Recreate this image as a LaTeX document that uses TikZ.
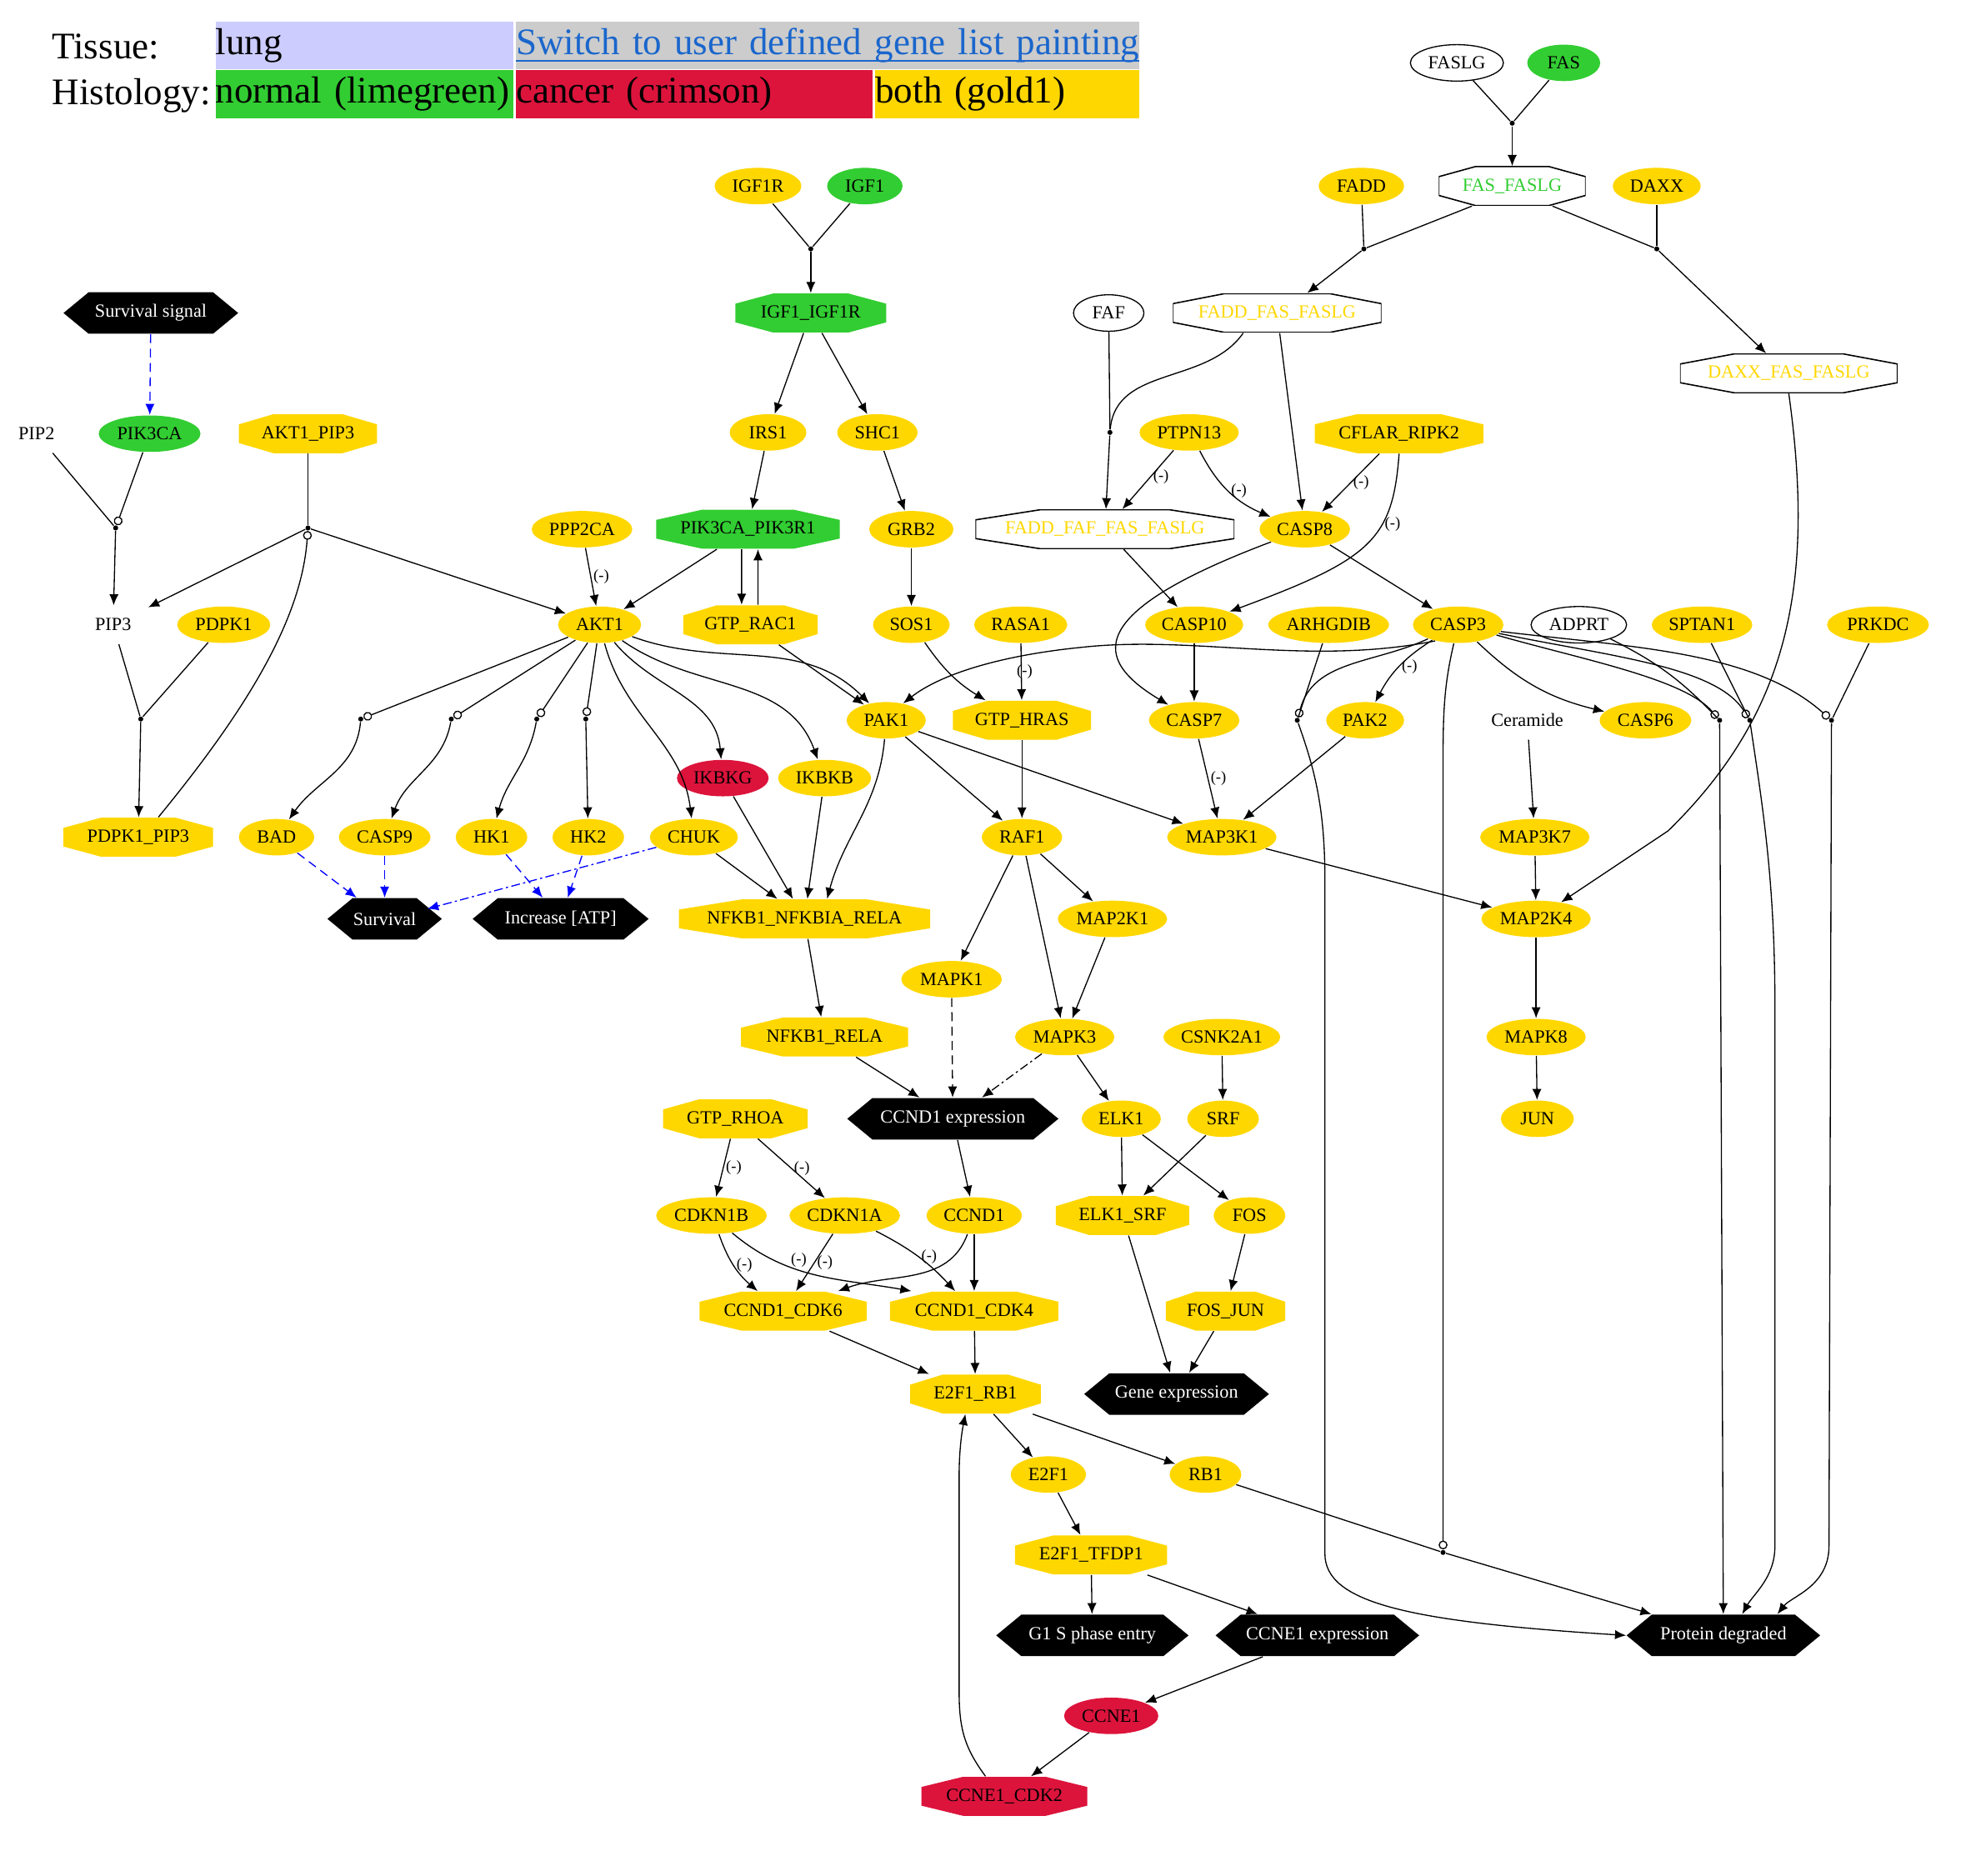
\documentclass[tikz,border=0pt]{standalone}
\usepackage{fontspec}
\setmainfont{Liberation Serif}
\usetikzlibrary{arrows.meta,shapes.geometric,calc}

\definecolor{gvgold}{HTML}{FFD700}
\definecolor{gvlime}{HTML}{32CD32}
\definecolor{gvred}{HTML}{DC143C}
\definecolor{gvlung}{HTML}{CCCCFF}
\definecolor{gvgrey}{HTML}{CCCCCC}
\definecolor{gvlink}{HTML}{1A66CC}

\newcommand{\gvfont}{\fontsize{8.4}{10}\selectfont}
\newcommand{\hdfont}{\fontsize{17}{20}\selectfont}
\newcommand{\gvuline}[1]{\setbox0\hbox{#1}\rlap{\rule[-3.4pt]{\wd0}{1pt}}\box0}
\newcommand{\gvbb}{path picture bounding box}
% octagon and hexagon outlines, drawn inside the node box
\newcommand{\gvoct}[1]{%
  \path[#1] ($(\gvbb.north west)!.25!(\gvbb.north east)$)
    -- ($(\gvbb.north west)!.75!(\gvbb.north east)$)
    -- ($(\gvbb.north east)!.26!(\gvbb.south east)$)
    -- ($(\gvbb.north east)!.74!(\gvbb.south east)$)
    -- ($(\gvbb.south west)!.75!(\gvbb.south east)$)
    -- ($(\gvbb.south west)!.25!(\gvbb.south east)$)
    -- ($(\gvbb.north west)!.74!(\gvbb.south west)$)
    -- ($(\gvbb.north west)!.26!(\gvbb.south west)$) -- cycle;}
\newcommand{\gvhex}[1]{%
  \path[#1] ($(\gvbb.north west)+(.4cm,0)$) -- ($(\gvbb.north east)+(-.4cm,0)$)
    -- (\gvbb.east) -- ($(\gvbb.south east)+(-.4cm,0)$)
    -- ($(\gvbb.south west)+(.4cm,0)$) -- (\gvbb.west) -- cycle;}

\tikzset{
  basic/.style = {inner sep=0pt, font=\gvfont},
  gene/.style  = {basic, ellipse, fill=gvgold, minimum height=.58cm, minimum width=#1},
  wgene/.style = {basic, ellipse, draw, fill=white, minimum height=.58cm, minimum width=#1},
  cplx/.style  = {basic, rectangle, minimum height=.62cm, minimum width=#1,
                  path picture={\gvoct{fill=gvgold}}},
  gcplx/.style = {cplx=#1, path picture={\gvoct{fill=gvlime}}},
  rcplx/.style = {cplx=#1, path picture={\gvoct{fill=gvred}}},
  wcplx/.style = {cplx=#1, path picture={\gvoct{draw, line width=.6pt}}},
  proc/.style  = {basic, rectangle, text=white, minimum height=.66cm, minimum width=#1,
                  path picture={\gvhex{fill=black}}},
  bare/.style  = {basic, minimum width=1.1cm, minimum height=.6cm},
  junc/.style  = {circle, fill, inner sep=0pt, minimum size=.08cm},
  neg/.style   = {font=\fontsize{7}{8}\selectfont, inner sep=1pt},
  hd/.style    = {font=\hdfont, inner sep=0pt, anchor=west},
  cell/.style  = {font=\hdfont, anchor=west, inner sep=0pt, text width=#1,
                  minimum height=.76cm, align=left}
}

\begin{document}
\begin{tikzpicture}[x=.02cm, y=.02cm, line width=.5pt,
    >={Latex[length=5pt,width=4.2pt]},
    modif/.style={-{Circle[open,length=4pt,width=4pt]}},
    sig/.style={->, blue, dash pattern=on 4pt off 2.5pt},
    sigdd/.style={->, blue, dash pattern=on 4pt off 1.5pt on 1pt off 1.5pt}]

\useasboundingbox (0,0) rectangle (1568,-1492);

% legend table
\node[hd] (tissue) at (41,-37) {Tissue:};
\node[hd] (histo) at (41,-76) {Histology:};
\node[cell=4.74cm, fill=gvlung] (lung) at (171,-36) {lung};
\node[cell=9.92cm, fill=gvgrey, text=gvlink] (swlink) at (410,-36)
  {\gvuline{Switch to user defined gene list painting}};
\node[cell=4.74cm, fill=gvlime] (normal) at (171,-75) {normal (limegreen)};
\node[cell=5.68cm, fill=gvred] (cancer) at (410,-75) {cancer (crimson)};
\node[cell=4.2cm, fill=gvgold] (both) at (696,-75) {both (gold1)};

% FAS branch
\node[wgene=1.48cm] (FASLG) at (1159,-50) {FASLG};
\node[gene=1.16cm, fill=gvlime] (FAS) at (1244,-50) {FAS};
\node[junc] (jFas) at (1203,-98) {};
\node[wcplx=2.34cm, text=gvlime] (FASFASLG) at (1203,-148) {FAS\_FASLG};
\node[gene=1.36cm] (FADD) at (1083,-148) {FADD};
\node[gene=1.40cm] (DAXX) at (1318,-148) {DAXX};
\node[junc] (jFadd) at (1085,-198) {};
\node[junc] (jDaxx) at (1318,-198) {};
\node[wcplx=3.32cm, text=gvgold] (FADDFAS) at (1016,-249) {FADD\_FAS\_FASLG};
\node[wcplx=3.46cm, text=gvgold] (DAXXFAS) at (1423,-297) {DAXX\_FAS\_FASLG};
\node[wgene=1.12cm] (FAF) at (882,-249) {FAF};
\node[junc] (jFaf) at (883,-344) {};
\node[gene=1.58cm] (PTPN13) at (946,-344) {PTPN13};
\node[cplx=2.68cm] (CFLAR) at (1113,-345) {CFLAR\_RIPK2};
\node[wcplx=4.12cm, text=gvgold] (FADDFAF) at (879,-421) {FADD\_FAF\_FAS\_FASLG};
\node[gene=1.44cm] (CASP8) at (1038,-421) {CASP8};

% IGF1 branch
\node[gene=1.38cm] (IGF1R) at (603,-148) {IGF1R};
\node[gene=1.20cm, fill=gvlime] (IGF1) at (688,-148) {IGF1};
\node[junc] (jIgf) at (645,-198) {};
\node[gcplx=2.40cm] (IGFIGF) at (645,-249) {IGF1\_IGF1R};
\node[gene=1.22cm] (IRS1) at (611,-344) {IRS1};
\node[gene=1.28cm] (SHC1) at (698,-344) {SHC1};
\node[gcplx=2.92cm] (PIKPIK) at (595,-421) {PIK3CA\_PIK3R1};
\node[gene=1.34cm] (GRB2) at (725,-421) {GRB2};
\node[gene=1.60cm] (PPP2CA) at (463,-421) {PPP2CA};

% PI3K branch
\node[proc=2.78cm] (SurvSig) at (120,-249) {Survival signal};
\node[gene=1.62cm, fill=gvlime] (PIK3CA) at (119,-345) {PIK3CA};
\node[bare] (PIP2) at (29,-345) {PIP2};
\node[cplx=2.20cm] (AKTPIP) at (245,-345) {AKT1\_PIP3};
\node[junc] (jPip) at (92,-420) {};
\node[junc] (jAkt) at (245,-420) {};
\node[bare] (PIP3) at (90,-497) {PIP3};
\node[gene=1.48cm] (PDPK1) at (178,-497) {PDPK1};
\node[gene=1.32cm] (AKT1) at (477,-497) {AKT1};
\node[junc] (jPdpk) at (112,-572) {};
\node[cplx=2.38cm] (PDPKPIP) at (110,-666) {PDPK1\_PIP3};

% middle rows
\node[cplx=2.14cm] (GTPRAC1) at (597,-497) {GTP\_RAC1};
\node[gene=1.22cm] (SOS1) at (725,-497) {SOS1};
\node[gene=1.48cm] (RASA1) at (812,-497) {RASA1};
\node[gene=1.56cm] (CASP10) at (950,-497) {CASP10};
\node[gene=1.92cm] (ARHGDIB) at (1057,-497) {ARHGDIB};
\node[gene=1.44cm] (CASP3) at (1160,-497) {CASP3};
\node[wgene=1.52cm] (ADPRT) at (1256,-497) {ADPRT};
\node[gene=1.60cm] (SPTAN1) at (1354,-497) {SPTAN1};
\node[gene=1.62cm] (PRKDC) at (1494,-497) {PRKDC};

\node[junc] (jBad) at (287,-572) {};
\node[junc] (jCasp9) at (359,-572) {};
\node[junc] (jHk1) at (427,-572) {};
\node[junc] (jHk2) at (466,-572) {};
\node[gene=1.26cm] (PAK1) at (705,-573) {PAK1};
\node[cplx=2.20cm] (GTPHRAS) at (813,-573) {GTP\_HRAS};
\node[gene=1.44cm] (CASP7) at (950,-573) {CASP7};
\node[junc] (jArh) at (1032,-573) {};
\node[gene=1.24cm] (PAK2) at (1086,-573) {PAK2};
\node[bare] (Ceramide) at (1215,-573) {Ceramide};
\node[gene=1.46cm] (CASP6) at (1309,-573) {CASP6};
\node[junc] (jAdprt) at (1368,-573) {};
\node[junc] (jSptan) at (1392,-573) {};
\node[junc] (jPrkdc) at (1457,-573) {};

\node[gene=1.46cm, fill=gvred] (IKBKG) at (575,-619) {IKBKG};
\node[gene=1.48cm] (IKBKB) at (656,-619) {IKBKB};

\node[gene=1.20cm] (BAD) at (220,-666) {BAD};
\node[gene=1.46cm] (CASP9) at (306,-666) {CASP9};
\node[gene=1.14cm] (HK1) at (391,-666) {HK1};
\node[gene=1.14cm] (HK2) at (468,-666) {HK2};
\node[gene=1.40cm] (CHUK) at (552,-666) {CHUK};
\node[gene=1.28cm] (RAF1) at (813,-666) {RAF1};
\node[gene=1.74cm] (MAP3K1) at (972,-666) {MAP3K1};
\node[gene=1.74cm] (MAP3K7) at (1221,-666) {MAP3K7};

\node[proc=1.82cm] (Survival) at (306,-731) {Survival};
\node[proc=2.80cm] (Incr) at (446,-731) {Increase [ATP]};
\node[cplx=4.00cm] (NFKB) at (640,-731) {NFKB1\_NFKBIA\_RELA};
\node[gene=1.74cm] (MAP2K1) at (885,-731) {MAP2K1};
\node[gene=1.74cm] (MAP2K4) at (1222,-731) {MAP2K4};

\node[gene=1.60cm] (MAPK1) at (757,-779) {MAPK1};
\node[cplx=2.66cm] (NFKBRELA) at (656,-825) {NFKB1\_RELA};
\node[gene=1.58cm] (MAPK3) at (847,-825) {MAPK3};
\node[gene=1.86cm] (CSNK2A1) at (972,-825) {CSNK2A1};
\node[gene=1.58cm] (MAPK8) at (1222,-825) {MAPK8};

% cell cycle part
\node[cplx=2.30cm] (GTPRHOA) at (585,-890) {GTP\_RHOA};
\node[proc=3.36cm] (CCNDexp) at (758,-890) {CCND1 expression};
\node[gene=1.26cm] (ELK1) at (892,-890) {ELK1};
\node[gene=1.14cm] (SRF) at (973,-890) {SRF};
\node[gene=1.16cm] (JUN) at (1223,-890) {JUN};
\node[gene=1.76cm] (CDKN1B) at (566,-967) {CDKN1B};
\node[gene=1.76cm] (CDKN1A) at (672,-967) {CDKN1A};
\node[gene=1.52cm] (CCND1) at (775,-967) {CCND1};
\node[cplx=2.12cm] (ELKSRF) at (893,-967) {ELK1\_SRF};
\node[gene=1.14cm] (FOS) at (994,-967) {FOS};
\node[cplx=2.66cm] (CDK6) at (623,-1043) {CCND1\_CDK6};
\node[cplx=2.68cm] (CDK4) at (775,-1043) {CCND1\_CDK4};
\node[cplx=1.90cm] (FOSJUN) at (975,-1043) {FOS\_JUN};
\node[cplx=2.08cm] (E2FRB1) at (776,-1109) {E2F1\_RB1};
\node[proc=2.94cm] (GeneExp) at (936,-1109) {Gene expression};
\node[gene=1.20cm] (E2F1) at (834,-1173) {E2F1};
\node[gene=1.14cm] (RB1) at (959,-1173) {RB1};
\node[junc] (jRb1) at (1148,-1235) {};
\node[cplx=2.42cm] (E2FTFDP) at (868,-1237) {E2F1\_TFDP1};
\node[proc=3.06cm] (G1S) at (869,-1301) {G1 S phase entry};
\node[proc=3.24cm] (CCNEexp) at (1048,-1301) {CCNE1 expression};
\node[proc=3.08cm] (PD) at (1371,-1301) {Protein degraded};
\node[gene=1.50cm, fill=gvred] (CCNE1) at (884,-1365) {CCNE1};
\node[rcplx=2.64cm] (CCNE1CDK2) at (799,-1429) {CCNE1\_CDK2};

% reactants joining at a junction
\foreach \a/\b in {FASLG/jFas, FAS/jFas, FADD/jFadd, DAXX/jDaxx, FAF/jFaf,
                   IGF1R/jIgf, IGF1/jIgf, PIP2/jPip, AKTPIP/jAkt, PIP3/jPdpk,
                   PDPK1/jPdpk, ARHGDIB/jArh, SPTAN1/jSptan, PRKDC/jPrkdc, RB1/jRb1}
  \draw (\a) -- (\b);
\draw ([xshift=-.64cm]FASFASLG.south) -- (jFadd);
\draw ([xshift=.64cm]FASFASLG.south) -- (jDaxx);
\draw ([xshift=-.54cm]FADDFAS.south) to[out=235, in=85] (jFaf);
\draw (ADPRT) to[bend left=10] (jAdprt);

% plain arrows
\foreach \a/\b in {jFas/FASFASLG, jIgf/IGFIGF, IGFIGF/IRS1, IGFIGF/SHC1, IRS1/PIKPIK,
                   SHC1/GRB2, GRB2/SOS1, PIKPIK/AKT1, jFaf/FADDFAF, FADDFAS/CASP8,
                   FADDFAF/CASP10, CASP8/CASP3, CASP10/CASP7, jPip/PIP3, jAkt/PIP3,
                   jAkt/AKT1, jPdpk/PDPKPIP, jHk2/HK2, GTPRAC1/PAK1, GTPHRAS/RAF1,
                   PAK1/RAF1, PAK1/MAP3K1, PAK2/MAP3K1, CHUK/NFKB, IKBKG/NFKB,
                   IKBKB/NFKB, NFKB/NFKBRELA, NFKBRELA/CCNDexp, RAF1/MAPK1, RAF1/MAPK3,
                   RAF1/MAP2K1, MAP2K1/MAPK3, MAPK3/ELK1, CSNK2A1/SRF, ELK1/ELKSRF,
                   SRF/ELKSRF, ELK1/FOS, FOS/FOSJUN, ELKSRF/GeneExp, FOSJUN/GeneExp,
                   Ceramide/MAP3K7, MAP3K7/MAP2K4, MAP3K1/MAP2K4, MAP2K4/MAPK8,
                   MAPK8/JUN, CCNDexp/CCND1, CCND1/CDK4, CDK6/E2FRB1, CDK4/E2FRB1,
                   E2FRB1/E2F1, E2FRB1/RB1, E2F1/E2FTFDP, E2FTFDP/G1S, E2FTFDP/CCNEexp,
                   CCNEexp/CCNE1, CCNE1/CCNE1CDK2, jAdprt/PD, jRb1/PD}
  \draw[->] (\a) -- (\b);
\draw[->] (jFadd) -- ([xshift=.48cm]FADDFAS.north);
\draw[->] (jDaxx) -- ([xshift=-.36cm]DAXXFAS.north);
\draw[->] ([xshift=-.1cm]PIKPIK.south) -- ([xshift=-.14cm]GTPRAC1.north);
\draw[->] ([xshift=.12cm]GTPRAC1.north) -- ([xshift=.16cm]PIKPIK.south);

% modifiers, ending in an open circle
\foreach \a/\b in {PIK3CA/jPip, AKT1/jBad, AKT1/jCasp9, AKT1/jHk1, AKT1/jHk2}
  \draw[modif] (\a) -- (\b);
\draw[modif] ([xshift=.32cm]PDPKPIP.north) .. controls (200,-560) and (240,-490) .. (jAkt);
\draw[modif] (CASP3) to[out=205, in=75] (jArh);
\draw[modif] (CASP3.345) .. controls (1260,-525) and (1340,-540) .. (jAdprt);
\draw[modif] (CASP3.348) .. controls (1280,-522) and (1365,-530) .. (jSptan);
\draw[modif] (CASP3.351) .. controls (1300,-515) and (1395,-518) .. (jPrkdc);
\draw[modif] (CASP3) .. controls (1150,-540) and (1148,-560) .. (1148,-600) -- (jRb1);

% curved arrows
\draw[->] (jBad) to[out=-95, in=55] (BAD);
\draw[->] (jCasp9) to[out=-100, in=70] (CASP9);
\draw[->] (jHk1) to[out=-100, in=75] (HK1);
\draw[->] (AKT1) to[out=-75, in=97] (CHUK);
\draw[->] (AKT1) to[out=-50, in=95] (IKBKG);
\draw[->] (AKT1) to[out=-35, in=110] (IKBKB);
\draw[->] (AKT1) to[out=-20, in=135] (PAK1);
\draw[->] (PAK1) to[out=-95, in=75] ([xshift=.36cm]NFKB.north);
\draw[->] (SOS1) to[bend right=12] (GTPHRAS);
\draw[->] (CASP8) .. controls (860,-488) and (870,-525) .. (CASP7);
\draw[->] (CASP3.215) .. controls (1040,-530) and (950,-505) .. (860,-515)
  .. controls (800,-521) and (750,-535) .. (PAK1.45);
\draw[->] (CASP3) to[bend right=15] (CASP6);
\draw[->] (DAXXFAS.south) .. controls (1445,-470) and (1420,-570) .. (1327,-661) -- (MAP2K4);
\draw[->] (jArh) .. controls (1045,-610) and (1054,-640) .. (1054,-700) -- (1054,-1236)
  .. controls (1054,-1275) and (1120,-1290) .. (PD.west);
\draw[->] (jSptan) .. controls (1402,-640) and (1412,-700) .. (1412,-800) -- (1412,-1230)
  .. controls (1412,-1255) and (1395,-1268) .. ([xshift=.3cm]PD.north);
\draw[->] (jPrkdc) -- (1455,-1230) .. controls (1455,-1262) and (1425,-1270)
  .. ([xshift=.86cm]PD.north);
\draw[->] (CCND1) to[out=-110, in=20] (CDK6);
\draw[->] ([xshift=-.3cm]CCNE1CDK2.north) .. controls (767,-1390) and (763,-1375) .. (763,-1345)
  -- (763,-1175) .. controls (763,-1150) and (766,-1135) .. ([xshift=-.16cm]E2FRB1.south);

% inhibitions
\draw[->] (PPP2CA) -- node[neg, right] {(-)} (AKT1);
\draw[->] (RASA1) -- node[neg, xshift=1.5pt] {(-)} (GTPHRAS);
\draw[->] (PTPN13) -- node[neg, pos=.45, right] {(-)} (FADDFAF);
\draw[->] (PTPN13) to[bend right=20] node[neg, right] {(-)} (CASP8);
\draw[->] (CFLAR) -- node[neg, right] {(-)} (CASP8);
\draw[->] (CFLAR.south) .. controls (1108,-430) and (1090,-445) .. (CASP10)
  node[neg, pos=.35, right] {(-)};
\draw[->] (CASP7) -- node[neg, right] {(-)} (MAP3K1);
\draw[->] (CASP3) to[bend right=15] node[neg, right] {(-)} (PAK2);
\draw[->] (GTPRHOA) -- node[neg, right] {(-)} (CDKN1B);
\draw[->] (GTPRHOA) -- node[neg, right] {(-)} (CDKN1A);
\draw[->] (CDKN1B) to[bend right=15] node[neg, right] {(-)} (CDK6);
\draw[->] (CDKN1B) to[out=-40, in=170] node[neg, pos=.4, above] {(-)} ([xshift=-1cm]CDK4.north);
\draw[->] (CDKN1A) -- node[neg, right] {(-)} (CDK6);
\draw[->] (CDKN1A) to[bend left=10] node[neg, right] {(-)} (CDK4);

% signals, dashed
\foreach \a/\b in {SurvSig/PIK3CA, BAD/Survival, CASP9/Survival, HK1/Incr, HK2/Incr}
  \draw[sig] (\a) -- (\b);
\draw[sigdd] (CHUK) -- ([shift={(.68cm,.16cm)}]Survival.center);
\draw[->, dash pattern=on 4pt off 2.5pt] (MAPK1) -- (CCNDexp);
\draw[->, dash pattern=on 4pt off 1.5pt on 1pt off 1.5pt] (MAPK3) -- (CCNDexp);

\end{tikzpicture}
\end{document}
